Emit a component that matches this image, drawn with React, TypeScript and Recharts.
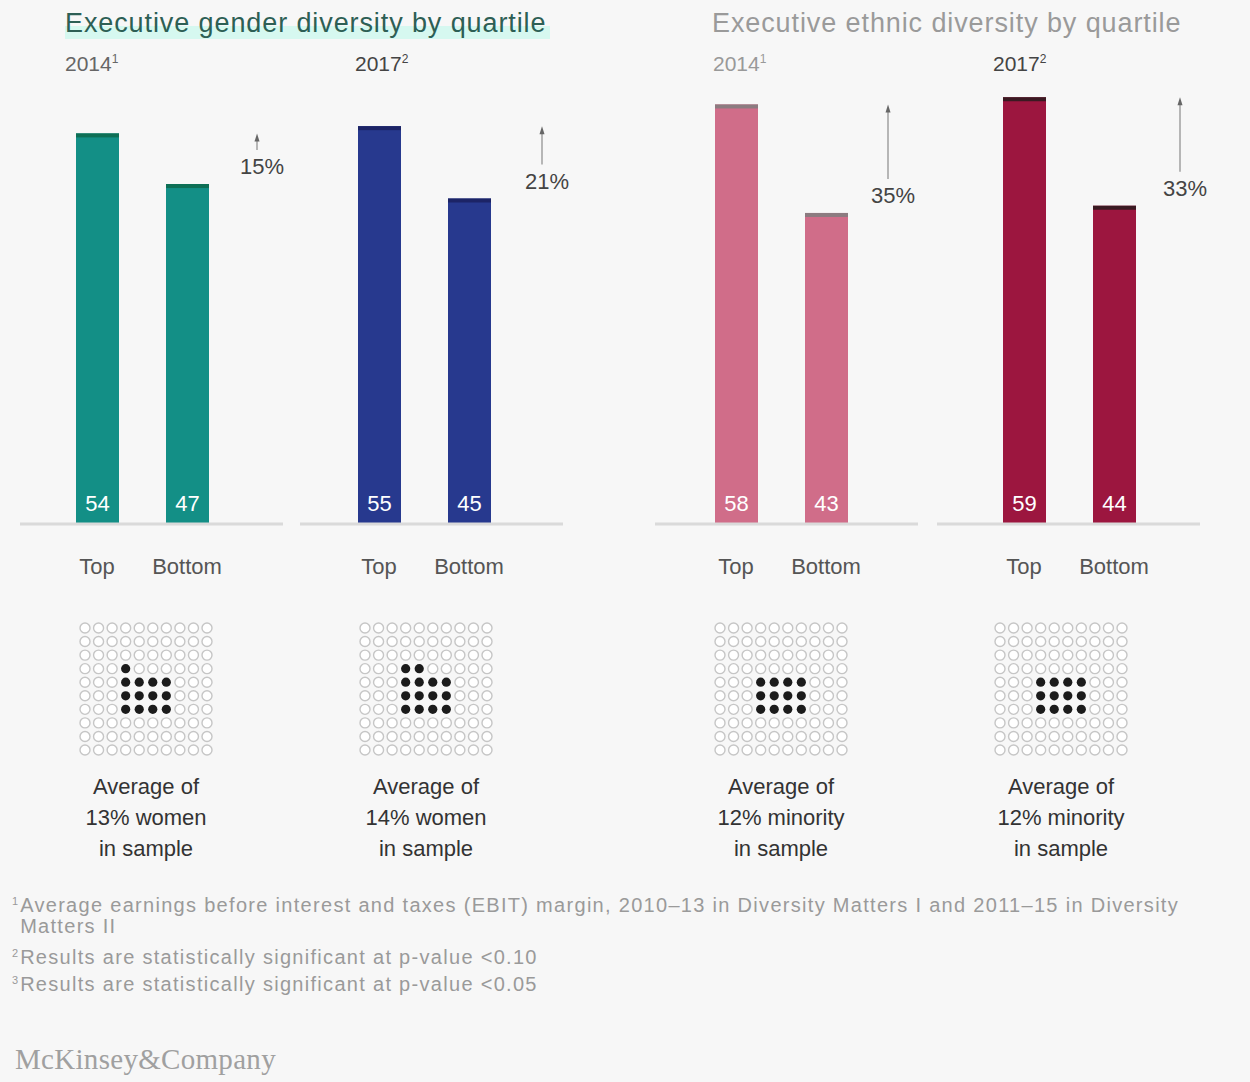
import { BarChart, Bar, XAxis, YAxis, LabelList, ReferenceLine, ScatterChart, Scatter } from 'recharts'

const quartiles = ['Top', 'Bottom']
const gender2014 = [54, 47]
const gender2017 = [55, 45]
const ethnic2014 = [58, 43]
const ethnic2017 = [59, 44]
const upliftLabels = ['15%', '21%', '35%', '33%']
const sampleShare = [13, 14, 12, 12]
const sampleGroup = ['women', 'women', 'minority', 'minority']

const FONT = '"Liberation Sans", Arial, sans-serif'

const panels = [
  { values: gender2014, color: '#138f86', cap: '#0e6f55', left: 20, padLeft: 32, arrowDx: 70, gridLeft: 78 },
  { values: gender2017, color: '#27398e', cap: '#1c2466', left: 300, padLeft: 34, arrowDx: 73, gridLeft: 358 },
  { values: ethnic2014, color: '#d06d89', cap: '#8c7b80', left: 655, padLeft: 36, arrowDx: 62, gridLeft: 713 },
  { values: ethnic2017, color: '#9c163f', cap: '#3a1a22', left: 937, padLeft: 42, arrowDx: 66, gridLeft: 993 },
]

function QuartileTick(props: any) {
  const { x, y, payload } = props
  return (
    <text x={x} y={y + 42} textAnchor="middle" fontSize={22} fill="#555" fontFamily={FONT}>
      {payload.value}
    </text>
  )
}

function QuartileBars({ idx }: { idx: number }) {
  const p = panels[idx]
  const data = quartiles.map((q, i) => ({ q, v: p.values[i] }))
  const label = upliftLabels[idx]
  return (
    <BarChart width={263} height={494} data={data} margin={{ top: 0, right: 0, bottom: 0, left: 0 }} style={{ overflow: 'visible' }}>
      <XAxis
        dataKey="q"
        height={60}
        interval={0}
        padding={{ left: p.padLeft, right: 83 - p.padLeft }}
        axisLine={{ stroke: '#dadada', strokeWidth: 3 }}
        tickLine={false}
        tick={<QuartileTick />}
      />
      <YAxis hide domain={[0, 60]} />
      <ReferenceLine
        segment={[{ x: 'Bottom', y: p.values[0] }, { x: 'Bottom', y: p.values[1] }]}
        shape={(s: any) => {
          const x = s.x1 + p.arrowDx
          const top = Math.min(s.y1, s.y2)
          const bot = Math.max(s.y1, s.y2)
          return (
            <g>
              <line x1={x} x2={x} y1={top + 6} y2={bot - 34} stroke="#8a8a8a" strokeWidth={1.2} />
              <path d={`M${x - 2.5},${top + 8} L${x},${top} L${x + 2.5},${top + 8}Z`} fill="#666" />
              <text x={x + 5} y={bot - 10} textAnchor="middle" fontSize={22} fill="#444" fontFamily={FONT}>
                {label}
              </text>
            </g>
          )
        }}
      />
      <Bar
        dataKey="v"
        barSize={43}
        fill={p.color}
        isAnimationActive={false}
        shape={(b: any) => (
          <g>
            <rect x={b.x} y={b.y} width={b.width} height={b.height} fill={p.color} />
            <rect x={b.x} y={b.y} width={b.width} height={4} fill={p.cap} />
          </g>
        )}
      >
        <LabelList
          dataKey="v"
          content={(l: any) => (
            <text
              x={l.x + l.width / 2}
              y={l.y + l.height - 13}
              textAnchor="middle"
              fontSize={22}
              fill="#ffffff"
              fontFamily={FONT}
            >
              {l.value}
            </text>
          )}
        />
      </Bar>
    </BarChart>
  )
}

function DotGrid({ share }: { share: number }) {
  // 10x10 pictogram; filled dots stack in a 4-wide block from row 6 upwards
  const cells: { c: number; r: number; on: boolean }[] = []
  for (let r = 0; r < 10; r++) for (let c = 0; c < 10; c++) cells.push({ c, r, on: false })
  for (let k = 0; k < share; k++) {
    const row = 6 - Math.floor(k / 4)
    const col = 3 + (k % 4)
    cells[row * 10 + col].on = true
  }
  return (
    <ScatterChart width={136} height={136} margin={{ top: 7, right: 7, bottom: 7, left: 7 }}>
      <XAxis type="number" dataKey="c" domain={[0, 9]} hide />
      <YAxis type="number" dataKey="r" domain={[0, 9]} reversed hide />
      <Scatter
        data={cells}
        isAnimationActive={false}
        shape={(d: any) =>
          d.payload.on ? (
            <circle cx={d.cx} cy={d.cy} r={4.6} fill="#1b1b1b" />
          ) : (
            <circle cx={d.cx} cy={d.cy} r={5} fill="#ffffff" stroke="#c6c6c6" strokeWidth={1.4} />
          )
        }
      />
    </ScatterChart>
  )
}

const abs = (left: number, top: number, extra: any = {}) => ({ position: 'absolute' as const, left, top, ...extra })

const footStyle = { display: 'flex', fontSize: 20, lineHeight: '21px', color: '#9a9a9a', letterSpacing: 1.3 }
const supStyle = { fontSize: 11, lineHeight: '12px', marginRight: 2, letterSpacing: 0 }

function Footnote({ n, top, text, width }: { n: string; top: number; text: string; width?: number }) {
  return (
    <div style={abs(12, top, footStyle)}>
      <span style={supStyle}>{n}</span>
      <span style={{ width }}>{text}</span>
    </div>
  )
}

export default function App() {
  return (
    <div
      style={{
        position: 'absolute',
        left: 0,
        top: 0,
        width: 1250,
        height: 1082,
        background: '#f7f7f7',
        fontFamily: FONT,
        overflow: 'hidden',
      }}
    >
      <style>{'.recharts-surface{overflow:visible}'}</style>
      <div
        style={abs(65, 7, {
          fontSize: 27,
          lineHeight: '32px',
          color: '#2d5f55',
          letterSpacing: 0.9,
          background: 'linear-gradient(transparent 60%, #d6f8f0 60%)',
          paddingRight: 4,
        })}
      >
        Executive gender diversity by quartile
      </div>
      <div style={abs(712, 7, { fontSize: 27, lineHeight: '32px', color: '#9a9a9a', letterSpacing: 0.9 })}>
        Executive ethnic diversity by quartile
      </div>

      <div style={abs(65, 52, { fontSize: 21, color: '#666' })}>2014<sup style={{ fontSize: 12 }}>1</sup></div>
      <div style={abs(355, 52, { fontSize: 21, color: '#444' })}>2017<sup style={{ fontSize: 12 }}>2</sup></div>
      <div style={abs(713, 52, { fontSize: 21, color: '#999' })}>2014<sup style={{ fontSize: 12 }}>1</sup></div>
      <div style={abs(993, 52, { fontSize: 21, color: '#444' })}>2017<sup style={{ fontSize: 12 }}>2</sup></div>

      {panels.map((p, i) => (
        <div key={'bars' + i} style={abs(p.left, 90)}>
          <QuartileBars idx={i} />
        </div>
      ))}

      {panels.map((p, i) => (
        <div key={'grid' + i} style={abs(p.gridLeft, 621)}>
          <DotGrid share={sampleShare[i]} />
        </div>
      ))}

      {panels.map((p, i) => (
        <div
          key={'cap' + i}
          style={abs(p.gridLeft - 72, 771, {
            width: 280,
            textAlign: 'center',
            fontSize: 22,
            lineHeight: '31px',
            color: '#333',
          })}
        >
          Average of
          <br />
          {sampleShare[i]}% {sampleGroup[i]}
          <br />
          in sample
        </div>
      ))}

      <Footnote
        n="1"
        top={895}
        width={1200}
        text="Average earnings before interest and taxes (EBIT) margin, 2010–13 in Diversity Matters I and 2011–15 in Diversity Matters II"
      />
      <Footnote n="2" top={947} text="Results are statistically significant at p-value <0.10" />
      <Footnote n="3" top={974} text="Results are statistically significant at p-value <0.05" />

      <div
        style={abs(15, 1043, {
          fontSize: 29,
          color: '#a0a0a0',
          letterSpacing: 0.3,
          fontFamily: '"Liberation Serif", "DejaVu Serif", serif',
        })}
      >
        McKinsey&amp;Company
      </div>
    </div>
  )
}
